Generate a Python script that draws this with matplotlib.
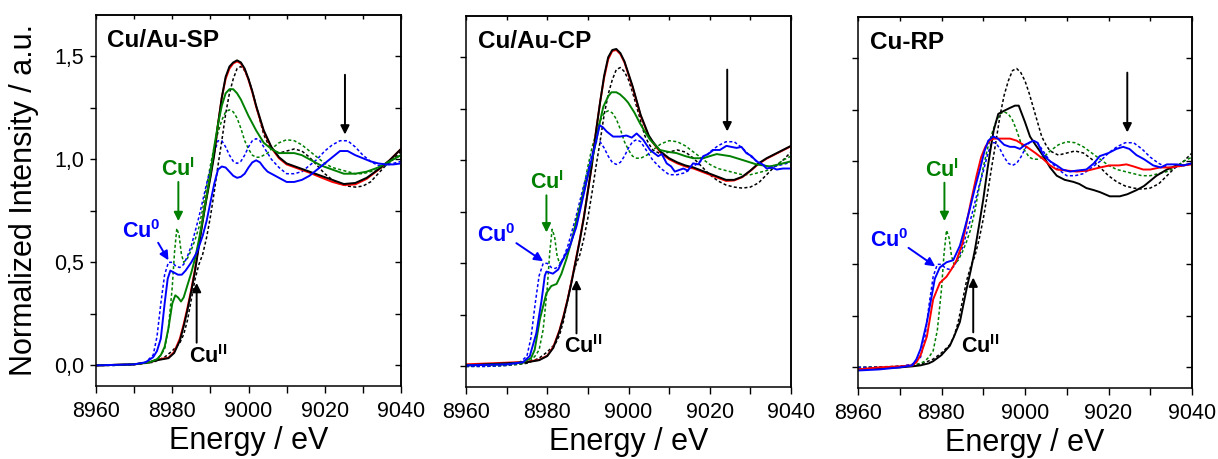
import matplotlib
matplotlib.use('Agg')
import matplotlib.pyplot as plt
from matplotlib.ticker import MultipleLocator, FuncFormatter

plt.rcParams['font.family'] = ['Liberation Sans', 'DejaVu Sans']
plt.rcParams['mathtext.fontset'] = 'custom'
plt.rcParams['mathtext.rm'] = 'Liberation Sans'
plt.rcParams['mathtext.bf'] = 'Liberation Sans:bold'

# --- reference spectra (dotted, same in every panel) ---
E_CU0_REF = [8960, 8965, 8970, 8973, 8975, 8976, 8977, 8978, 8979, 8980, 8981, 8982, 8983, 8984, 8985,
             8986, 8987, 8988, 8989, 8990, 8991, 8992, 8993, 8994, 8995, 8996, 8997, 8998, 8999, 9000,
             9001, 9002, 9003, 9004, 9005, 9006, 9008, 9010, 9012, 9014, 9016, 9018, 9020, 9022, 9024,
             9026, 9028, 9030, 9032, 9034, 9036, 9038, 9040]
Y_CU0_REF = [0.0, 0.0, 0.005, 0.015, 0.05, 0.14, 0.30, 0.44, 0.50, 0.50, 0.48, 0.475, 0.49, 0.53, 0.58,
             0.65, 0.72, 0.80, 0.88, 0.95, 1.03, 1.09, 1.09, 1.06, 1.02, 0.99, 0.98, 0.99, 1.02, 1.06,
             1.09, 1.10, 1.09, 1.06, 1.03, 1.00, 0.96, 0.93, 0.93, 0.94, 0.97, 1.00, 1.04, 1.07, 1.09,
             1.09, 1.06, 1.02, 0.99, 0.97, 0.97, 0.98, 0.99]

E_CU1_REF = [8960, 8965, 8970, 8973, 8975, 8976, 8977, 8978, 8979, 8980, 8980.6, 8981.2, 8981.8, 8982.4,
             8983, 8984, 8985, 8986, 8987, 8988, 8989, 8990, 8991, 8992, 8993, 8994, 8995, 8996, 8997,
             8998, 8999, 9000, 9001, 9002, 9003, 9004, 9005, 9006, 9008, 9010, 9012, 9014, 9016, 9018,
             9020, 9022, 9024, 9026, 9028, 9030, 9032, 9034, 9036, 9038, 9040]
Y_CU1_REF = [0.0, 0.0, 0.005, 0.01, 0.02, 0.03, 0.05, 0.08, 0.18, 0.38, 0.55, 0.665, 0.63, 0.54,
             0.50, 0.52, 0.56, 0.61, 0.67, 0.76, 0.87, 0.97, 1.06, 1.13, 1.19, 1.23, 1.24, 1.23, 1.20,
             1.15, 1.09, 1.05, 1.02, 1.01, 1.01, 1.02, 1.03, 1.05, 1.08, 1.095, 1.09, 1.07, 1.04, 1.01,
             0.98, 0.96, 0.95, 0.94, 0.93, 0.93, 0.94, 0.95, 0.97, 1.00, 1.02]

E_CU2_REF = [8960, 8970, 8975, 8978, 8980, 8982, 8983, 8984, 8985, 8986, 8987, 8988, 8989, 8990, 8991,
             8992, 8993, 8994, 8995, 8996, 8997, 8998, 8999, 9000, 9001, 9002, 9003, 9004, 9005, 9006,
             9008, 9010, 9012, 9014, 9016, 9018, 9020, 9022, 9024, 9026, 9028, 9030, 9032, 9034, 9036,
             9038, 9040]
Y_CU2_REF = [0.0, 0.005, 0.015, 0.04, 0.07, 0.11, 0.15, 0.22, 0.32, 0.42, 0.49, 0.54, 0.62, 0.72, 0.84,
             0.97, 1.09, 1.22, 1.32, 1.39, 1.44, 1.45, 1.43, 1.39, 1.33, 1.26, 1.19, 1.12, 1.08, 1.05,
             1.03, 1.04, 1.05, 1.04, 1.01, 0.97, 0.93, 0.90, 0.88, 0.87, 0.865, 0.87, 0.89, 0.93, 0.97,
             1.00, 1.04]

# --- Cu/Au-SP samples ---
E_SP = [8960, 8970, 8974, 8976, 8977.5, 8979, 8980.5, 8982, 8983, 8984, 8985, 8986, 8987, 8988, 8989,
        8990, 8991, 8992, 8993, 8994, 8995, 8996, 8997, 8998, 8999, 9000, 9001, 9002, 9003, 9004,
        9005, 9006, 9008, 9010, 9013, 9016, 9019, 9022, 9025, 9028, 9031, 9034, 9037, 9040]
Y_SP_BLACK = [0.0, 0.005, 0.015, 0.025, 0.03, 0.035, 0.06, 0.12, 0.19, 0.27, 0.36, 0.46, 0.58, 0.70, 0.81,
              0.91, 1.02, 1.17, 1.30, 1.40, 1.45, 1.47, 1.48, 1.47, 1.44, 1.39, 1.33, 1.26, 1.20, 1.14,
              1.10, 1.06, 1.01, 0.98, 0.96, 0.94, 0.92, 0.90, 0.88, 0.885, 0.91, 0.95, 0.995, 1.05]
Y_SP_RED = [0.0, 0.005, 0.015, 0.027, 0.033, 0.037, 0.065, 0.13, 0.20, 0.28, 0.37, 0.47, 0.59, 0.71, 0.82,
            0.92, 1.03, 1.17, 1.30, 1.39, 1.44, 1.465, 1.475, 1.465, 1.435, 1.385, 1.325, 1.255, 1.195,
            1.135, 1.095, 1.055, 1.005, 0.975, 0.955, 0.935, 0.912, 0.89, 0.875, 0.878, 0.905, 0.948,
            0.995, 1.05]
E_SP_GREEN = [8960, 8970, 8974, 8976, 8977, 8978, 8979, 8980, 8980.8, 8981.5, 8982.3, 8983, 8984, 8985,
              8986, 8987, 8988, 8989, 8990, 8991, 8992, 8993, 8994, 8995, 8996, 8997, 8998, 9000, 9002,
              9004, 9006, 9008, 9010, 9012, 9014, 9016, 9019, 9022, 9025, 9028, 9031, 9034, 9037, 9040]
Y_SP_GREEN = [0.0, 0.005, 0.015, 0.03, 0.05, 0.09, 0.18, 0.30, 0.34, 0.33, 0.31, 0.33, 0.39, 0.45,
              0.52, 0.61, 0.71, 0.82, 0.93, 1.06, 1.17, 1.26, 1.32, 1.34, 1.34, 1.32, 1.29, 1.21, 1.14,
              1.08, 1.05, 1.03, 1.03, 1.03, 1.02, 1.00, 0.97, 0.95, 0.93, 0.93, 0.94, 0.96, 0.99, 1.02]
E_SP_BLUE = [8960, 8970, 8973, 8975, 8976, 8977, 8978, 8978.8, 8979.5, 8980.5, 8981.5, 8982.5, 8983.5,
             8985, 8986.5, 8988, 8989, 8990, 8991, 8992, 8993, 8994, 8995, 8996, 8997, 8998, 8999, 9000,
             9001, 9002, 9003, 9004, 9005, 9006, 9008, 9010, 9012, 9014, 9016, 9018, 9020, 9022, 9024,
             9026, 9028, 9030, 9032, 9034, 9036, 9038, 9040]
Y_SP_BLUE = [0.0, 0.005, 0.015, 0.04, 0.07, 0.13, 0.30, 0.42, 0.46, 0.45, 0.44, 0.44, 0.46,
             0.50, 0.55, 0.63, 0.70, 0.79, 0.88, 0.95, 0.965, 0.96, 0.94, 0.92, 0.91, 0.915, 0.93, 0.96,
             0.985, 0.995, 0.985, 0.96, 0.94, 0.93, 0.91, 0.89, 0.89, 0.90, 0.92, 0.95, 0.98, 1.01, 1.04,
             1.04, 1.02, 1.005, 0.99, 0.98, 0.975, 0.975, 0.98]

# --- Cu/Au-CP samples ---
E_CP = [8960, 8970, 8975, 8978, 8980, 8981.5, 8983, 8984, 8985, 8986, 8987, 8988, 8989, 8990, 8991,
        8992, 8993, 8994, 8995, 8996, 8997, 8998, 8999, 9000, 9001, 9002, 9003, 9004, 9005, 9006,
        9008, 9010, 9012, 9014, 9016, 9018, 9020, 9022, 9024, 9026, 9028, 9030, 9032, 9034, 9036,
        9038, 9040]
Y_CP_BLACK = [0.005, 0.015, 0.02, 0.03, 0.05, 0.09, 0.17, 0.24, 0.32, 0.41, 0.51, 0.61, 0.72, 0.85, 0.98,
              1.14, 1.28, 1.41, 1.50, 1.535, 1.54, 1.52, 1.48, 1.42, 1.36, 1.29, 1.22, 1.17, 1.12, 1.09,
              1.04, 1.01, 0.99, 0.975, 0.965, 0.95, 0.935, 0.92, 0.905, 0.905, 0.92, 0.95, 0.985, 1.01,
              1.03, 1.05, 1.07]
Y_CP_RED = [0.01, 0.018, 0.022, 0.032, 0.052, 0.095, 0.175, 0.245, 0.325, 0.415, 0.515, 0.615, 0.725,
            0.85, 0.98, 1.14, 1.28, 1.40, 1.49, 1.53, 1.535, 1.515, 1.475, 1.415, 1.355, 1.285, 1.215,
            1.165, 1.115, 1.085, 1.035, 1.005, 0.985, 0.97, 0.96, 0.945, 0.93, 0.915, 0.9, 0.902, 0.918,
            0.948, 0.982, 1.008, 1.028, 1.048, 1.068]
E_CP_GREEN = [8960, 8970, 8974, 8976, 8976.9, 8978.2, 8979.8, 8981, 8982.3, 8983.5, 8984.7, 8986, 8987.2,
              8988.5, 8989.7, 8991, 8992.1, 8993, 8993.8, 8995, 8995.8, 8997, 8997.9, 8999, 8999.9, 9001.5,
              9002.8, 9004, 9005.3, 9007.7, 9010, 9011.8, 9014, 9015.9, 9018.4, 9020, 9021.7, 9025,
              9028.3, 9031.5, 9034.8, 9037, 9040]
Y_CP_GREEN = [0.005, 0.01, 0.02, 0.04, 0.08, 0.23, 0.356, 0.39, 0.40, 0.45, 0.52, 0.61, 0.71,
              0.81, 0.905, 1.0, 1.10, 1.19, 1.26, 1.31, 1.33, 1.33, 1.32, 1.30, 1.28, 1.23,
              1.18, 1.14, 1.10, 1.05, 1.04, 1.035, 1.02, 1.01, 1.01, 1.02, 1.03, 1.02,
              1.00, 0.98, 0.97, 0.98, 0.995]
E_CP_BLUE = [8960, 8970, 8974, 8975.7, 8977.3, 8978.6, 8979.4, 8979.8, 8981.4, 8982.7, 8983.9, 8985.5,
             8987.2, 8988.8, 8990.5, 8992.1, 8992.9, 8993.7, 8994.6, 8996.2, 8997.9, 8999.5, 9000.8, 9002,
             9003.6, 9005.3, 9007.3, 9008.2, 9009.4, 9010.5, 9011.4, 9013.5, 9014.6, 9015.9, 9017.2,
             9018.4, 9019.6, 9020.9, 9022.5, 9024.1, 9025.3, 9026.6, 9027.8, 9029, 9030.3, 9031.5, 9033,
             9034, 9035.3, 9036.5, 9038, 9040]
Y_CP_BLUE = [0.005, 0.01, 0.02, 0.05, 0.16, 0.32, 0.44, 0.46, 0.45, 0.47, 0.52, 0.58,
             0.68, 0.82, 0.97, 1.10, 1.17, 1.16, 1.14, 1.115, 1.115, 1.12, 1.11, 1.13,
             1.10, 1.05, 1.02, 1.03, 0.985, 0.97, 0.945, 0.96, 0.95, 0.985, 0.98,
             1.02, 1.03, 1.05, 1.05, 1.07, 1.065, 1.06, 1.065, 1.035, 1.02, 0.995, 0.98,
             0.96, 0.965, 0.955, 0.96, 0.96]

# --- Cu-RP samples ---
E_RP_BLACK = [8960, 8965, 8970, 8973, 8975, 8977, 8978, 8980, 8982, 8983, 8984.4, 8986, 8987, 8988, 8989,
              8990, 8991, 8991.6, 8992.5, 8993.6, 8995, 8996.5, 8997.6, 8998.5, 9000, 9001.2, 9002.5,
              9004.4, 9006, 9007.6, 9009.5, 9011.6, 9013, 9014.7, 9016.5, 9018, 9020.3, 9022.7, 9024.5,
              9026.7, 9028.5, 9031.5, 9034, 9036.3, 9038, 9040]
Y_RP_BLACK = [-0.01, -0.005, 0.0, 0.005, 0.01, 0.02, 0.03, 0.06, 0.105, 0.15, 0.22, 0.38, 0.47, 0.57, 0.69,
              0.815, 0.96, 1.04, 1.15, 1.23, 1.245, 1.26, 1.27, 1.27, 1.19, 1.12, 1.08,
              1.025, 0.97, 0.93, 0.91, 0.90, 0.89, 0.87, 0.86, 0.85, 0.83, 0.83, 0.84,
              0.86, 0.88, 0.93, 0.96, 0.98, 0.98, 0.99]
E_RP_RED = [8960, 8965, 8970, 8973, 8974, 8975, 8976.5, 8978, 8979.6, 8981.2, 8982.5, 8983.6, 8985, 8986,
            8987, 8988.4, 8989.5, 8990.5, 8991.5, 8992.5, 8994, 8996.4, 8998, 9000.4, 9002.5, 9004.4, 9006,
            9007.6, 9010, 9012.4, 9015, 9018, 9020.3, 9022.5, 9024.3, 9026, 9028.3, 9030, 9032.3, 9035,
            9038, 9040]
Y_RP_RED = [-0.01, 0.0, 0.005, 0.01, 0.025, 0.06, 0.15, 0.33, 0.41, 0.44, 0.48, 0.52, 0.60, 0.70,
            0.80, 0.93, 1.02, 1.07, 1.10, 1.11, 1.11, 1.11, 1.10, 1.07, 1.04, 1.01, 0.98,
            0.96, 0.955, 0.95, 0.955, 0.97, 0.98, 0.98, 0.985, 0.975, 0.96, 0.96, 0.97, 0.97,
            0.98, 0.985]
E_RP_BLUE = [8960, 8965, 8970, 8973, 8974, 8975, 8976.5, 8977.5, 8978.4, 8979.6, 8981.2, 8982.8, 8984.4,
             8985.5, 8986.8, 8988, 8989.2, 8990.3, 8991.2, 8992.4, 8993.5, 8995, 8996.4, 8997.5, 8998.8,
             9000, 9001, 9002, 9003, 9004.4, 9006, 9007.6, 9009, 9010.8, 9012.5, 9014.7, 9016.5, 9017.9,
             9020, 9021.9, 9023.5, 9025, 9026.7, 9028.5, 9030.7, 9032.5, 9034, 9036.3, 9038, 9040]
Y_RP_BLUE = [-0.015, -0.01, 0.0, 0.01, 0.04, 0.09, 0.22, 0.33, 0.43, 0.485, 0.51, 0.52, 0.59,
             0.67, 0.77, 0.87, 0.96, 1.05, 1.10, 1.12, 1.11, 1.08, 1.07, 1.07, 1.06,
             1.08, 1.09, 1.10, 1.09, 1.03, 1.0, 0.98, 0.96, 0.95, 0.955, 0.96, 0.99, 1.025,
             1.04, 1.06, 1.07, 1.06, 1.03, 1.01, 0.98, 0.97, 0.985, 0.985, 0.98, 0.99]

PANEL_TITLES = ['Cu/Au-SP', 'Cu/Au-CP', 'Cu-RP']

BLUE = '#0000ff'
GREEN = '#008000'
RED = '#ff0000'
BLACK = '#000000'


def comma_fmt(v, pos):
    return f'{v:.1f}'.replace('.', ',')


def style_axes(ax, show_ylabels, right_ticks=True):
    ax.set_xlim(8960, 9040)
    ax.set_ylim(-0.1, 1.7)
    ax.xaxis.set_major_locator(MultipleLocator(20))
    ax.xaxis.set_minor_locator(MultipleLocator(10))
    ax.yaxis.set_major_locator(MultipleLocator(0.5))
    ax.yaxis.set_minor_locator(MultipleLocator(0.25))
    ax.yaxis.set_major_formatter(FuncFormatter(comma_fmt))
    ax.tick_params(which='both', direction='out', top=False, right=False, width=1.0, labelsize=15.5)
    ax.tick_params(which='both', axis='x', length=5, pad=6)
    ax.tick_params(which='both', axis='y', length=4.5, pad=4)
    if not show_ylabels:
        ax.tick_params(axis='y', labelleft=False)
    for sp in ax.spines.values():
        sp.set_linewidth(1.1)
    top = ax.secondary_xaxis('top')
    top.xaxis.set_major_locator(MultipleLocator(20))
    top.xaxis.set_minor_locator(MultipleLocator(10))
    top.tick_params(which='both', direction='in', length=3, width=1.0, labeltop=False)
    top.spines['top'].set_linewidth(1.1)
    right = ax.secondary_yaxis('right')
    right.yaxis.set_major_locator(MultipleLocator(0.5))
    right.yaxis.set_minor_locator(MultipleLocator(0.25))
    right.tick_params(which='both', direction='in', length=4.5 if right_ticks else 0, width=1.0,
                      labelright=False)
    right.spines['right'].set_linewidth(1.1)
    ax.set_xlabel('Energy / eV', fontsize=22, labelpad=3)


def draw_refs(ax):
    dot = (0, (2, 1.5))
    ax.plot(E_CU2_REF, Y_CU2_REF, color=BLACK, lw=1.1, ls=dot)
    ax.plot(E_CU1_REF, Y_CU1_REF, color=GREEN, lw=1.1, ls=dot)
    ax.plot(E_CU0_REF, Y_CU0_REF, color=BLUE, lw=1.1, ls=dot)


def annotate_states(ax, cu1, cu0, cu2, big):
    # cu1/cu0/cu2 = (text x, text y, arrow tail x, tail y, head x, head y)
    specs = [(cu1, r'Cu$^{\mathbf{I}}$', GREEN),
             (cu0, r'Cu$^{\mathbf{0}}$', BLUE),
             (cu2, r'Cu$^{\mathbf{II}}$', BLACK)]
    for (tx, ty, ax0, ay0, ax1, ay1), label, col in specs:
        ax.text(tx, ty, label, color=col, fontsize=15.5, fontweight='bold', ha='center', va='center')
        ax.annotate('', xy=(ax1, ay1), xytext=(ax0, ay0),
                    arrowprops=dict(arrowstyle='-|>', color=col, lw=1.4, mutation_scale=13,
                                    shrinkA=0, shrinkB=0))
    ax.annotate('', xy=(big[0], big[2]), xytext=(big[0], big[1]),
                arrowprops=dict(arrowstyle='-|>', color=BLACK, lw=1.4, mutation_scale=13,
                                shrinkA=0, shrinkB=0))


fig = plt.figure(figsize=(12.18, 4.59), dpi=100)
ax1 = fig.add_axes([96 / 1218, 73 / 459, 305 / 1218, 371 / 459])
ax2 = fig.add_axes([466 / 1218, 72 / 459, 325 / 1218, 371 / 459])
ax3 = fig.add_axes([858 / 1218, 71 / 459, 334 / 1218, 371 / 459])

# panel 1
draw_refs(ax1)
ax1.plot(E_SP, Y_SP_RED, color=RED, lw=1.4)
ax1.plot(E_SP, Y_SP_BLACK, color=BLACK, lw=1.4)
ax1.plot(E_SP_GREEN, Y_SP_GREEN, color=GREEN, lw=1.4)
ax1.plot(E_SP_BLUE, Y_SP_BLUE, color=BLUE, lw=1.4)
style_axes(ax1, True)
annotate_states(ax1,
                (8981.5, 0.95, 8981.6, 0.89, 8981.6, 0.70),
                (8971.8, 0.65, 8976.3, 0.595, 8979.0, 0.51),
                (8989.4, 0.045, 8986.4, 0.11, 8986.4, 0.40),
                (9025.3, 1.41, 1.12))

# panel 2
draw_refs(ax2)
ax2.plot(E_CP, Y_CP_RED, color=RED, lw=1.4)
ax2.plot(E_CP, Y_CP_BLACK, color=BLACK, lw=1.4)
ax2.plot(E_CP_GREEN, Y_CP_GREEN, color=GREEN, lw=1.4)
ax2.plot(E_CP_BLUE, Y_CP_BLUE, color=BLUE, lw=1.4)
style_axes(ax2, False, right_ticks=False)
annotate_states(ax2,
                (8980.0, 0.89, 8979.8, 0.83, 8979.8, 0.65),
                (8967.5, 0.634, 8972.4, 0.598, 8979.0, 0.51),
                (8988.8, 0.097, 8987.2, 0.16, 8987.2, 0.42),
                (9024.3, 1.44, 1.14))

# panel 3
draw_refs(ax3)
ax3.plot(E_RP_BLACK, Y_RP_BLACK, color=BLACK, lw=1.4)
ax3.plot(E_RP_RED, Y_RP_RED, color=RED, lw=1.4)
ax3.plot(E_RP_BLUE, Y_RP_BLUE, color=BLUE, lw=1.4)
style_axes(ax3, False)
annotate_states(ax3,
                (8980.2, 0.957, 8980.7, 0.896, 8980.7, 0.71),
                (8967.5, 0.613, 8972.1, 0.58, 8978.5, 0.49),
                (8989.2, 0.10, 8987.6, 0.17, 8987.6, 0.436),
                (9024.5, 1.43, 1.14))

for ax, title in zip([ax1, ax2, ax3], PANEL_TITLES):
    ax.text(0.036, 0.93, title, transform=ax.transAxes, fontsize=17.5, fontweight='bold',
            ha='left', va='center')

fig.text(24 / 1218, 1 - 200 / 459, 'Normalized Intensity / a.u.', rotation=90, fontsize=22,
         ha='center', va='center')

fig.savefig('out.png', dpi=100)
